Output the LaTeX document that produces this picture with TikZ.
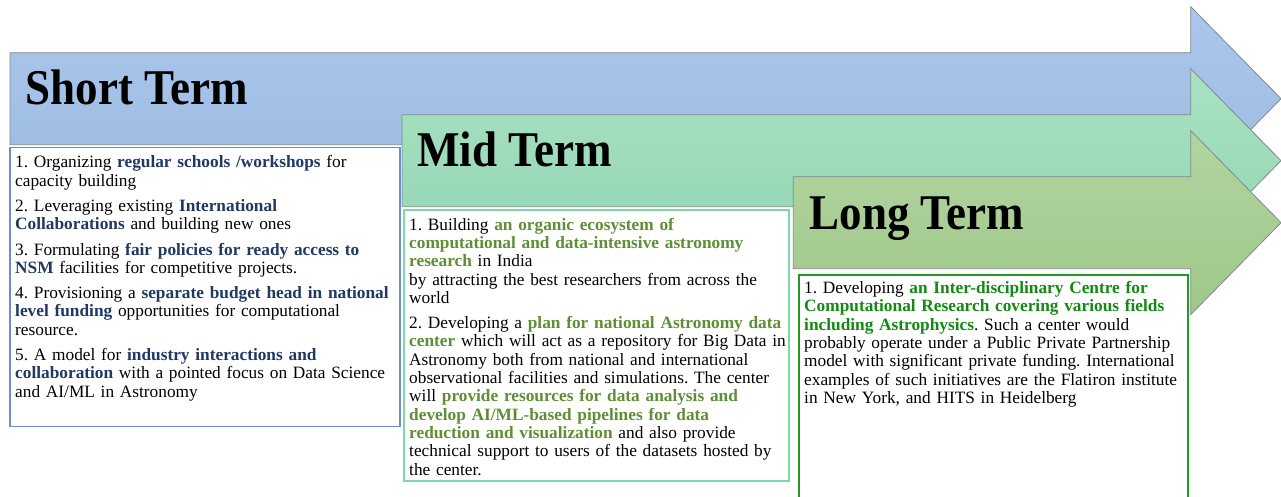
\documentclass[tikz,border=0pt]{standalone}
\usepackage{fontspec}
\setmainfont{Liberation Serif}
\newfontfamily\headfont{Liberation Serif}[FakeStretch=0.9]
\usepackage{tikz}
\usetikzlibrary{positioning, shadings}
\usepackage{xcolor}
\definecolor{shortblue}{HTML}{203864}
\definecolor{midgreen}{HTML}{5E8F34}
\definecolor{longgreen}{HTML}{148A14}
\definecolor{arrowline}{HTML}{7F8A8C}
\definecolor{shorttop}{HTML}{ABC6EA}
\definecolor{shortbot}{HTML}{9CBBE3}
\definecolor{midtop}{HTML}{A9E2C3}
\definecolor{midbot}{HTML}{92D5B2}
\definecolor{longtop}{HTML}{B3D4A1}
\definecolor{longbot}{HTML}{9FC889}
\definecolor{shortframe}{HTML}{6F8CCE}
\definecolor{midframe}{HTML}{7ED9A8}
\definecolor{longframe}{HTML}{229A22}
\newcommand{\shortkey}[1]{\textcolor{shortblue}{\textbf{#1}}}
\newcommand{\midkey}[1]{\textcolor{midgreen}{\textbf{#1}}}
\newcommand{\longkey}[1]{\textcolor{longgreen}{\textbf{#1}}}
\tikzstyle{tbox} = [%
  rectangle,
  anchor=north west,
  fill=white,
  line width=1.2pt,
  inner sep=0pt,
  minimum width=390pt
]
\tikzstyle{ttext} = [%
  inner sep=0pt,
  text width=400pt,
  align=left,
  font=\fontsize{17.3}{18.3}\selectfont\frenchspacing
]
\tikzstyle{thead} = [%
  anchor=base west,
  inner sep=0pt,
  font=\headfont\bfseries\fontsize{50}{55}\selectfont
]

\begin{document}
\begin{tikzpicture}[%
  x=1pt, y=-1pt,
  termarrow/.style={draw=arrowline, line width=0.8pt},
  shortarrow/.style={termarrow, top color=shorttop, bottom color=shortbot},
  midarrow/.style={termarrow, top color=midtop, bottom color=midbot},
  longarrow/.style={termarrow, top color=longtop, bottom color=longbot}
]
  \useasboundingbox (0,0) rectangle (1281,497);

  % Short term
  \draw[shortarrow] (10,52.7) -| (1190.7,6.7) -- (1281,98.7) -- (1190.7,190.7) |- (10,144.7) -- cycle;
  \node[thead] (shorthead) at (25.5,104.5) {Short Term};
  \node[tbox, draw=shortframe, minimum height=279pt] (shortbox) at (9.3,147) {};
  \node[ttext, below right=7.8pt and 5.7pt of shortbox.north west, anchor=north west] (shorttext) {%
    \strut 1. Organizing \shortkey{regular schools /workshops} for\\
    capacity building\\[7pt]
    2. Leveraging existing \shortkey{International}\\
    \shortkey{Collaborations} and building new ones\\[7pt]
    3. Formulating \shortkey{fair policies for ready access to}\\
    \shortkey{NSM} facilities for competitive projects.\\[7pt]
    4. Provisioning a \shortkey{separate budget head in national}\\
    \shortkey{level funding} opportunities for computational\\
    resource.\\[7pt]
    5. A model for \shortkey{industry interactions and}\\
    \shortkey{collaboration} with a pointed focus on Data Science\\
    and AI/ML in Astronomy};

  % Mid term
  \draw[midarrow] (402,114.7) -| (1190.7,68.7) -- (1281,160.7) -- (1190.7,252.7) |- (402,206.7) -- cycle;
  \node[thead] (midhead) at (417,166.8) {Mid Term};
  \node[tbox, draw=midframe, minimum width=385pt, minimum height=271pt] (midbox) at (403.3,209.3) {};
  \node[ttext, below right=7.8pt and 5.7pt of midbox.north west, anchor=north west] (midtext) {%
    \strut 1. Building \midkey{an organic ecosystem of}\\
    \midkey{computational and data-intensive astronomy}\\
    \midkey{research} in India\\
    by attracting the best researchers from across the\\
    world\\[7pt]
    2. Developing a \midkey{plan for national Astronomy data}\\
    \midkey{center} which will act as a repository for Big Data in\\
    Astronomy both from national and international\\
    observational facilities and simulations. The center\\
    will \midkey{provide resources for data analysis and}\\
    \midkey{develop AI/ML-based pipelines for data}\\
    \midkey{reduction and visualization} and also provide\\
    technical support to users of the datasets hosted by\\
    the center.};

  % Long term
  \draw[longarrow] (793.3,176.7) -| (1190.7,130.7) -- (1281,222.7) -- (1190.7,314.7) |- (793.3,268.7) -- cycle;
  \node[thead] (longhead) at (809.3,229.3) {Long Term};
  \node[tbox, draw=longframe, minimum width=389pt, minimum height=240pt] (longbox) at (798.3,274.3) {};
  \node[ttext, below right=6.3pt and 5.7pt of longbox.north west, anchor=north west] (longtext) {%
    \strut 1. Developing \longkey{an Inter-disciplinary Centre for}\\
    \longkey{Computational Research covering various fields}\\
    \longkey{including Astrophysics}. Such a center would\\
    probably operate under a Public Private Partnership\\
    model with significant private funding. International\\
    examples of such initiatives are the Flatiron institute\\
    in New York, and HITS in Heidelberg};

\end{tikzpicture}
\end{document}
